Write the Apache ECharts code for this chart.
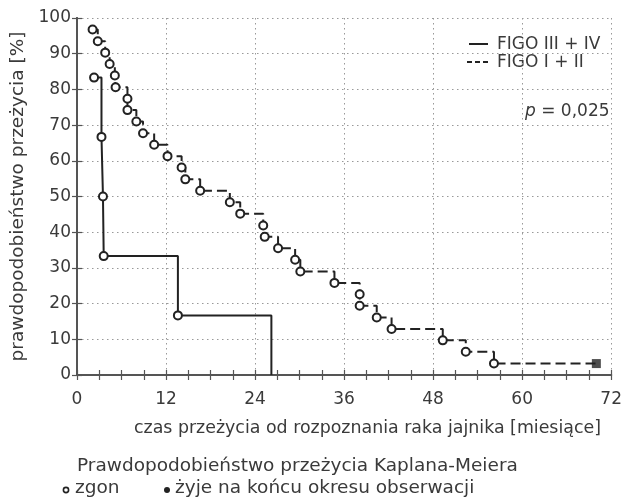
<!DOCTYPE html>
<html>
<head>
<meta charset="utf-8">
<script src="https://cdn.jsdelivr.net/npm/echarts@6/dist/echarts.min.js"></script>
<style>
  html, body { margin: 0; padding: 0; background: #fff; }
  #chart { width: 625px; height: 500px; }
</style>
</head>
<body>
<div id="chart"></div>
<script>
// Kaplan-Meier survival by FIGO stage (months, % surviving)

// FIGO I + II: time of each death and survival right after it
const figo12Months = [2.1, 2.8, 3.8, 4.4, 5.1, 5.2, 6.8, 6.8, 8.0, 8.9, 10.4, 12.2, 14.1, 14.6, 16.6,
  20.6, 22.0, 25.1, 25.3, 27.1, 29.4, 30.1, 34.7, 38.1, 38.1, 40.4, 42.4, 49.3, 52.4, 56.2];
const figo12Survival = [96.8, 93.5, 90.3, 87.1, 83.9, 80.6, 77.4, 74.2, 71.0, 67.7, 64.5, 61.3, 58.1, 54.8, 51.6,
  48.4, 45.2, 41.9, 38.7, 35.5, 32.3, 29.0, 25.8, 22.6, 19.4, 16.1, 12.9, 9.7, 6.5, 3.2];
// FIGO I + II: patient alive at the end of follow-up
const figo12CensorMonths = [70.0];
const figo12CensorSurvival = [3.2];

// FIGO III + IV
const figo34Months = [2.3, 3.3, 3.5, 3.6, 13.6, 26.2];
const figo34Survival = [83.3, 66.7, 50.0, 33.3, 16.7, 0];

const xTicks = [0, 12, 24, 36, 48, 60, 72];
const yTicks = [0, 10, 20, 30, 40, 50, 60, 70, 80, 90, 100];

const FONT = 'DejaVu Sans';
const INK = '#3a3a3a';
const LINE = '#222';
const FRAME = '#555';

const deathMarker = {
  symbol: 'circle',
  symbolSize: 8,
  itemStyle: { color: '#fff', borderColor: LINE, borderWidth: 2 }
};

function pointsOf(months, values) {
  return months.map((m, i) => {
    const item = { value: [m, values[i]] };
    // a drop to zero ends the curve without a marker
    if (values[i] === 0) item.symbol = 'none';
    return item;
  });
}

const figo12Line = pointsOf(figo12Months, figo12Survival)
  .concat(figo12CensorMonths.map((m, i) => ({ value: [m, figo12CensorSurvival[i]], symbol: 'none' })));
const figo34Line = pointsOf(figo34Months, figo34Survival);

const chart = echarts.init(document.getElementById('chart'), null, { renderer: 'canvas' });

const xMin = xTicks[0];
const xMax = xTicks[xTicks.length - 1];
const tickStyle = { color: FRAME, width: 1.2 };
const dotted = { show: true, lineStyle: { color: '#999', type: [1.5, 3.5], width: 1 } };
const frameLine = { show: true, lineStyle: { color: FRAME, width: 2 } };

chart.setOption({
  animation: false,
  backgroundColor: '#fff',
  textStyle: { fontFamily: FONT, color: INK },
  grid: { left: 77, right: 11, top: 18, bottom: 125, containLabel: false },
  xAxis: [
    {
      // bottom axis: labels every 12 months, ticks every 3 months
      type: 'value', position: 'bottom', min: xMin, max: xMax, interval: 3,
      axisLine: frameLine,
      axisTick: { show: true, inside: true, length: 5, lineStyle: tickStyle },
      axisLabel: {
        show: true, margin: 16, fontSize: 17, color: INK, fontFamily: FONT,
        formatter: v => (xTicks.includes(v) ? String(v) : '')
      },
      splitLine: { show: false }
    },
    {
      // top frame with the same 3-month ticks
      type: 'value', position: 'top', min: xMin, max: xMax, interval: 3,
      axisLine: frameLine,
      axisTick: { show: true, inside: true, length: 5, lineStyle: tickStyle },
      axisLabel: { show: false },
      splitLine: { show: false }
    },
    {
      // dotted grid every 12 months
      type: 'value', position: 'bottom', min: xMin, max: xMax, interval: 12,
      axisLine: { show: false }, axisTick: { show: false }, axisLabel: { show: false },
      splitLine: dotted
    }
  ],
  yAxis: [
    {
      type: 'value', position: 'left',
      min: yTicks[0], max: yTicks[yTicks.length - 1], interval: 10,
      axisLine: frameLine,
      axisTick: { show: true, inside: true, length: 5, lineStyle: tickStyle },
      axisLabel: { show: true, margin: 6, fontSize: 17, color: INK, fontFamily: FONT },
      splitLine: dotted,
      name: 'prawdopodobieństwo przeżycia [%]',
      nameLocation: 'middle', nameRotate: 90, nameGap: 49,
      nameTextStyle: { fontSize: 18.5, color: INK, fontFamily: FONT }
    },
    {
      type: 'value', position: 'right',
      min: yTicks[0], max: yTicks[yTicks.length - 1], interval: 10,
      axisLine: frameLine,
      axisTick: { show: true, inside: true, length: 5, lineStyle: tickStyle },
      axisLabel: { show: false },
      splitLine: { show: false }
    }
  ],
  series: [
    {
      name: 'FIGO I + II', type: 'line', step: 'end',
      xAxisIndex: 0, yAxisIndex: 0,
      data: figo12Line,
      ...deathMarker,
      showAllSymbol: true,
      lineStyle: { color: LINE, width: 2, type: [10, 5] },
      z: 3
    },
    {
      name: 'FIGO I + II alive', type: 'scatter',
      xAxisIndex: 0, yAxisIndex: 0,
      data: figo12CensorMonths.map((m, i) => [m, figo12CensorSurvival[i]]),
      symbol: 'rect', symbolSize: 9,
      itemStyle: { color: LINE },
      z: 4
    },
    {
      name: 'FIGO III + IV', type: 'line', step: 'end',
      xAxisIndex: 0, yAxisIndex: 0,
      data: figo34Line,
      ...deathMarker,
      showAllSymbol: true,
      lineStyle: { color: LINE, width: 2 },
      z: 3
    }
  ],
  graphic: [
    // legend inside the plot
    { type: 'line', shape: { x1: 469, y1: 44, x2: 488, y2: 44 }, style: { stroke: LINE, lineWidth: 2 } },
    { type: 'text', left: 497, top: 36, style: { text: 'FIGO III + IV', fontSize: 17, fontFamily: FONT, fill: INK } },
    { type: 'line', shape: { x1: 467, y1: 62, x2: 491, y2: 62 }, style: { stroke: LINE, lineWidth: 2, lineDash: [5, 3] } },
    { type: 'text', left: 497, top: 54, style: { text: 'FIGO I + II', fontSize: 17, fontFamily: FONT, fill: INK } },
    {
      type: 'text', left: 525, top: 103,
      style: {
        text: '{i|p} = 0,025',
        fontSize: 17, fontFamily: FONT, fill: INK,
        rich: { i: { fontStyle: 'italic', fontSize: 17, fontFamily: FONT, color: INK } }
      }
    },
    // x axis title
    { type: 'text', left: 134, top: 420, style: { text: 'czas przeżycia od rozpoznania raka jajnika [miesiące]', fontSize: 17.4, fontFamily: FONT, fill: INK } },
    // notes below the chart
    { type: 'text', left: 77, top: 457, style: { text: 'Prawdopodobieństwo przeżycia Kaplana-Meiera', fontSize: 18.5, fontFamily: FONT, fill: INK } },
    { type: 'circle', shape: { cx: 66, cy: 490, r: 2.6 }, style: { fill: '#fff', stroke: LINE, lineWidth: 1.6 } },
    { type: 'text', left: 75, top: 479, style: { text: 'zgon', fontSize: 18.5, fontFamily: FONT, fill: INK } },
    { type: 'circle', shape: { cx: 167, cy: 490, r: 3 }, style: { fill: LINE } },
    { type: 'text', left: 175, top: 479, style: { text: 'żyje na końcu okresu obserwacji', fontSize: 18.5, fontFamily: FONT, fill: INK } }
  ]
});
</script>
</body>
</html>
